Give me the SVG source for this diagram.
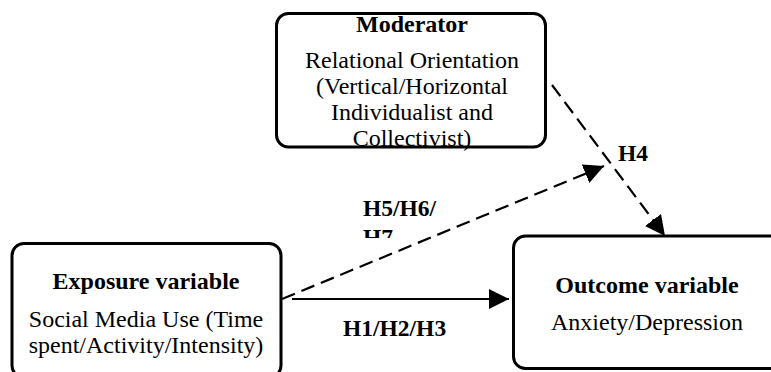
<svg xmlns="http://www.w3.org/2000/svg" width="771" height="372" viewBox="0 0 771 372">
  <style>
    .box { fill: #fff; stroke: #000; stroke-width: 3; }
    .t { font-family: 'Liberation Serif', 'DejaVu Serif', serif; font-size: 24px; fill: #000; text-anchor: middle; }
    .b { font-weight: bold; }
    .h { font-family: 'Liberation Serif', 'DejaVu Serif', serif; font-size: 23.5px; font-weight: bold; fill: #000; }
    .solid { stroke: #000; stroke-width: 2.2; fill: none; }
    .dash { stroke: #000; stroke-width: 2.2; fill: none; stroke-dasharray: 14 7; }
  </style>
  <defs>
    <marker id="ah" viewBox="0 0 10 10" refX="10" refY="5" markerWidth="20" markerHeight="20" orient="auto" markerUnits="userSpaceOnUse">
      <path d="M0,0 L10,5 L0,10 z" fill="#000"/>
    </marker>
    <clipPath id="clipH7">
      <rect x="340" y="200" width="120" height="38"/>
    </clipPath>
  </defs>
  <rect width="771" height="372" fill="#fff"/>

  <g id="moderator">
    <rect class="box" x="276.5" y="13.5" width="269" height="133.5" rx="12" ry="12"/>
    <text class="t b" x="412" y="32">Moderator</text>
    <text class="t" x="412" y="68">Relational Orientation</text>
    <text class="t" x="412" y="94">(Vertical/Horizontal</text>
    <text class="t" x="412" y="120">Individualist and</text>
    <text class="t" x="412" y="146">Collectivist)</text>
  </g>

  <g id="exposure">
    <rect class="box" x="12" y="243.5" width="269" height="134" rx="12" ry="12"/>
    <text class="t b" x="146" y="289">Exposure variable</text>
    <text class="t" x="146" y="327">Social Media Use (Time</text>
    <text class="t" x="146" y="353">spent/Activity/Intensity)</text>
  </g>

  <g id="outcome">
    <rect class="box" x="513.5" y="236" width="270" height="132.5" rx="12" ry="12"/>
    <text class="t b" x="647" y="293">Outcome variable</text>
    <text class="t" x="647" y="330">Anxiety/Depression</text>
  </g>

  <g id="connectors">
    <line class="solid" x1="292" y1="299" x2="509" y2="299" marker-end="url(#ah)"/>
    <line class="dash" x1="282" y1="299" x2="604" y2="166" marker-end="url(#ah)"/>
    <line class="dash" x1="552" y1="85" x2="665" y2="236" marker-end="url(#ah)"/>
    <text class="h" x="343" y="336">H1/H2/H3</text>
    <text class="h" x="363" y="216">H5/H6/</text>
    <text class="h" x="363" y="245" clip-path="url(#clipH7)">H7</text>
    <text class="h" x="618" y="161">H4</text>
  </g>
</svg>
